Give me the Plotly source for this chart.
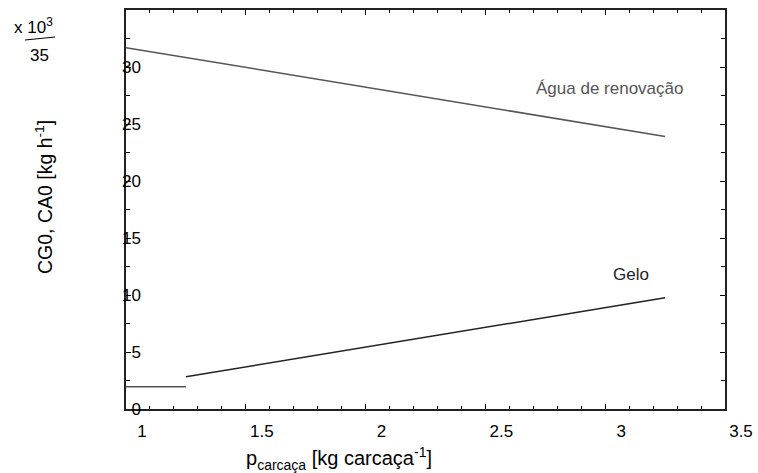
import plotly.graph_objects as go

# Data
agua_x = [1.0, 3.25]
agua_y = [31.7, 23.9]
gelo_flat_x = [1.0, 1.25]
gelo_flat_y = [1.96, 1.96]
gelo_x = [1.25, 3.25]
gelo_y = [2.83, 9.76]

x_tickvals = [1, 1.5, 2, 2.5, 3, 3.5]
x_ticktext = ["1", "1.5", "2", "2.5", "3", "3.5"]
y_tickvals = [0, 5, 10, 15, 20, 25, 30]
y_ticktext = ["0", "5", "10", "15", "20", "25", "30"]

FONT = "Arial, Liberation Sans, sans-serif"

fig = go.Figure()
fig.add_trace(go.Scatter(x=agua_x, y=agua_y, mode="lines",
                         line=dict(color="#555555", width=1.5), showlegend=False))
fig.add_trace(go.Scatter(x=gelo_flat_x, y=gelo_flat_y, mode="lines",
                         line=dict(color="#555555", width=1.5), showlegend=False))
fig.add_trace(go.Scatter(x=gelo_x, y=gelo_y, mode="lines",
                         line=dict(color="#222222", width=1.5), showlegend=False))

L, R, T, B = 126, 33, 10, 64
W, H = 758, 473
pw, ph = W - L - R, H - T - B


def px(xp):
    return (xp - L) / pw


def py(yp):
    return (H - B - yp) / ph


fig.update_layout(
    width=W, height=H,
    margin=dict(l=L, r=R, t=T, b=B, autoexpand=False),
    paper_bgcolor="white", plot_bgcolor="white",
    font=dict(family=FONT, size=17, color="black"),
    xaxis=dict(range=[1, 3.5], tickvals=x_tickvals, ticktext=x_ticktext,
               ticks="inside", ticklen=5, tickcolor="black", tickwidth=1,
               minor=dict(dtick=0.1, ticks="inside", ticklen=3, tickcolor="black"),
               showline=True, linecolor="#222222", linewidth=1.5, mirror="allticks",
               showgrid=False, zeroline=False, ticklabelshift=16, ticklabelstandoff=6,
               automargin=False, tickfont=dict(size=17)),
    yaxis=dict(range=[0, 35], tickvals=y_tickvals, ticktext=y_ticktext,
               ticks="inside", ticklen=5, tickcolor="black", tickwidth=1,
               minor=dict(dtick=2.5, ticks="inside", ticklen=4, tickcolor="black"),
               showline=True, linecolor="#222222", linewidth=1.5, mirror="allticks",
               showgrid=False, zeroline=False, ticklabelstandoff=-20,
               automargin=False, tickfont=dict(size=17)),
)

ann = []
ann.append(dict(x=3.017, y=28.1, xref="x", yref="y", text="Água de renovação",
                xanchor="center", yanchor="middle",
                showarrow=False, font=dict(size=17, color="#555555")))
ann.append(dict(x=3.108, y=11.8, xref="x", yref="y", text="Gelo",
                xanchor="center", yanchor="middle",
                showarrow=False, font=dict(size=17, color="#222222")))
ann.append(dict(x=px(339), y=py(459), xref="paper", yref="paper",
                xanchor="center", yanchor="middle",
                text="p<sub>carcaça</sub> [kg carcaça<sup>-1</sup>]",
                showarrow=False, font=dict(size=20)))
ann.append(dict(x=px(44), y=py(197), xref="paper", yref="paper",
                xanchor="center", yanchor="middle",
                text="CG0, CA0 [kg h<sup>-1</sup>]", textangle=-90,
                showarrow=False, font=dict(size=19.5)))
ann.append(dict(x=px(33), y=py(26), xref="paper", yref="paper",
                xanchor="center", yanchor="middle",
                text="x 10<sup>3</sup>", showarrow=False, font=dict(size=17)))
ann.append(dict(x=px(39), y=py(55), xref="paper", yref="paper",
                xanchor="center", yanchor="middle",
                text="35", showarrow=False, font=dict(size=17)))
fig.update_layout(annotations=ann)
fig.add_shape(type="line", xref="paper", yref="paper",
              x0=px(25), y0=py(40), x1=px(55), y1=py(37),
              line=dict(color="black", width=1))

fig.write_html("out.html")
